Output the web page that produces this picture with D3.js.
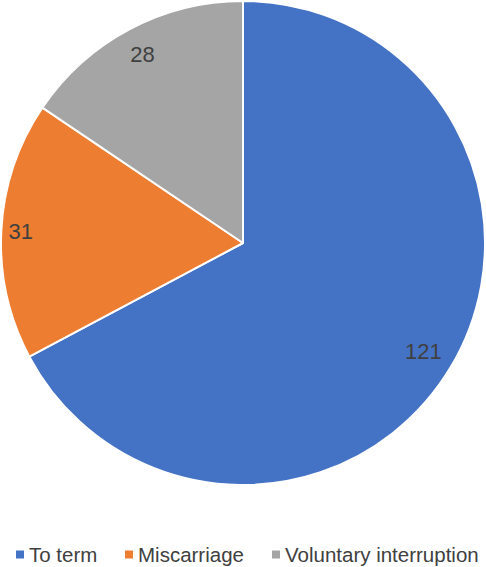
<!DOCTYPE html>
<html>
<head>
<meta charset="utf-8">
<script src="https://cdn.jsdelivr.net/npm/d3@7.9.0/dist/d3.min.js"></script>
<style>
  body { margin: 0; background: #fff; }
  svg { display: block; font-family: "Liberation Sans", Arial, sans-serif; }
</style>
</head>
<body>
<svg id="chart" width="486" height="567"></svg>
<script>
// data
const categories = ['To term', 'Miscarriage', 'Voluntary interruption'];
const counts = [121, 31, 28];
const colors = ['#4472c4', '#ed7d31', '#a5a5a5'];

// label distance from centre, as a share of the radius
const labelRadius = [0.87, 0.92, 0.885];

const svg = d3.select('#chart');
const cx = 243, cy = 243, r = 242;

const pie = d3.pie().sort(null).value(d => d.value);
const rows = categories.map((c, i) => ({ name: c, value: counts[i], color: colors[i], lr: labelRadius[i] }));
const arcs = pie(rows);

const arc = d3.arc().innerRadius(0).outerRadius(r);

const g = svg.append('g').attr('transform', `translate(${cx},${cy})`);

g.selectAll('path')
  .data(arcs)
  .enter()
  .append('path')
  .attr('d', arc)
  .attr('fill', d => d.data.color)
  .attr('stroke', '#fff')
  .attr('stroke-width', 2)
  .attr('stroke-linejoin', 'round');

g.selectAll('text.lbl')
  .data(arcs)
  .enter()
  .append('text')
  .attr('class', 'lbl')
  .attr('transform', d => {
    const rr = r * d.data.lr;
    const a = (d.startAngle + d.endAngle) / 2;
    return `translate(${Math.sin(a) * rr},${-Math.cos(a) * rr})`;
  })
  .attr('text-anchor', 'middle')
  .attr('dy', '0.36em')
  .attr('fill', '#404040')
  .attr('font-size', 22)
  .text(d => d.data.value);

// legend
const legendX = [16, 125, 272];
const legend = svg.append('g').attr('transform', 'translate(0,555)');
const items = legend.selectAll('g')
  .data(rows)
  .enter()
  .append('g')
  .attr('transform', (d, i) => `translate(${legendX[i]},0)`);

items.append('rect')
  .attr('x', 0)
  .attr('y', -4.5)
  .attr('width', 8)
  .attr('height', 8)
  .attr('fill', d => d.color);

items.append('text')
  .attr('x', 13)
  .attr('dy', '0.36em')
  .attr('fill', '#404040')
  .attr('font-size', 20.5)
  .text(d => d.name);
</script>
</body>
</html>
